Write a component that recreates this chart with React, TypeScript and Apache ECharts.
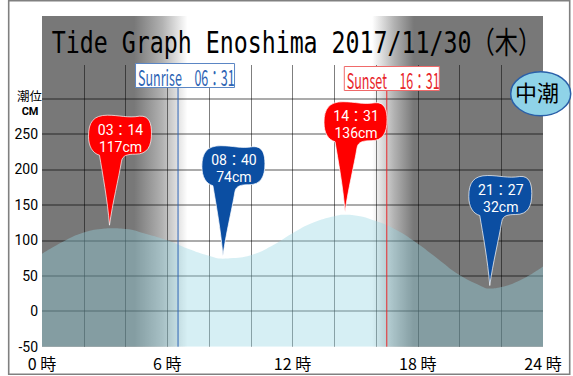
import React, { useEffect, useRef } from 'react';
import * as echarts from 'echarts';

// ---- data ----
const titleText = 'Tide Graph Enoshima 2017/11/30（木）';
const tideHours = [0, 1, 2, 3, 3.23, 4, 5, 6, 7, 8, 8.67, 9, 10, 11, 12, 13, 14, 14.52, 15, 16, 17, 18, 19, 20, 21, 21.45, 22, 23, 24];
const tideCm = [81, 98, 111, 116.5, 117, 116, 109, 100, 88, 78, 74, 74.5, 79, 92, 110, 125, 134, 136, 135, 127, 114, 95, 73, 51, 36, 32, 34, 45, 63];

const eventHours = [3 + 14 / 60, 8 + 40 / 60, 14 + 31 / 60, 21 + 27 / 60];
const eventCm = [117, 74, 136, 32];
const eventTimes = ['03：14', '08：40', '14：31', '21：27'];
const eventKinds = ['high', 'low', 'high', 'low'];

const sunNames = ['Sunrise', 'Sunset'];
const sunTimes = ['06：31', '16：31'];
const sunHours = [6 + 31 / 60, 16 + 31 / 60];

const yTicks = { min: -50, max: 300, step: 50 };
const xTicks = { min: 0, max: 24, step: 2, labelStep: 6 };
const tideName = '中潮';

// ---- layout / style ----
const W = 573;
const H = 376;
const GRID = { left: 42, right: 30, top: 65, bottom: 29.3 };
const Y_TOP_VALUE = 347; // value at the top edge of the grid (grid lines stop at 300)
const GRAY = '#787878';
const RED = '#ff0000';
const BLUE = '#0b4ea2';
const JP = '"Noto Sans CJK JP", "Noto Sans", sans-serif';
const LATIN = 'Roboto, "Noto Sans CJK JP", sans-serif';
const SUN_STYLE = [
  { color: '#2d64b4', border: '#5b86c4', top: 63, w: 99 },
  { color: '#e8262a', border: '#f06a6a', top: 66, w: 95 },
];
const PIN_PATH =
  'M 0 0 C -2 -25 -7 -52 -10 -70 C -17 -72 -21 -79 -21 -89 C -21 -103 -16 -110 -2 -110 ' +
  'C 10 -110 18 -107 30 -109 C 40 -110 42 -101 42 -92 C 42 -79 38 -71 26 -71 ' +
  'C 18 -71 13 -70 12 -64 C 9 -46 3 -22 0 0 Z';

export default function App() {
  const ref = useRef<HTMLDivElement>(null);

  useEffect(() => {
    if (!ref.current) return;
    const chart = echarts.init(ref.current, null, { renderer: 'svg' });

    const plotW = W - GRID.left - GRID.right;
    const rise = sunHours[0];
    const set = sunHours[1];
    const f = (h: number) => Math.max(0, Math.min(1, h / xTicks.max));
    const bg = new echarts.graphic.LinearGradient(0, 0, 1, 0, [
      { offset: 0, color: GRAY },
      { offset: f(rise - 2.1), color: GRAY },
      { offset: f(rise - 0.75), color: '#b2b2b2' },
      { offset: f(rise + 0.45), color: '#ffffff' },
      { offset: f(set - 0.7), color: '#ffffff' },
      { offset: f(set + 0.35), color: '#b2b2b2' },
      { offset: f(set + 1.3), color: GRAY },
      { offset: 1, color: GRAY },
    ]);

    const option: any = {
      animation: false,
      grid: { left: GRID.left, right: GRID.right, top: GRID.top, bottom: GRID.bottom, containLabel: false },
      xAxis: {
        type: 'value',
        min: xTicks.min,
        max: xTicks.max,
        interval: xTicks.step,
        z: 1,
        axisLine: { show: false },
        axisTick: { show: false },
        axisLabel: {
          color: '#000',
          fontSize: 16,
          lineHeight: 16,
          fontFamily: JP,
          margin: 8,
          formatter: (v: number) => (v % xTicks.labelStep === 0 ? `${v} 時` : ''),
        },
        splitLine: {
          show: true,
          showMinLine: false,
          showMaxLine: false,
          lineStyle: { color: 'rgba(0,0,0,0.5)', width: 1 },
        },
      },
      yAxis: {
        type: 'value',
        min: yTicks.min,
        max: Y_TOP_VALUE,
        interval: yTicks.step,
        z: 1,
        axisLine: { show: false },
        axisTick: { show: false },
        axisLabel: {
          color: '#000',
          fontSize: 14,
          lineHeight: 13,
          fontFamily: LATIN,
          margin: 4,
          showMaxLabel: false,
          formatter: (v: number) => (v >= yTicks.max ? '' : String(v)),
        },
        splitLine: {
          show: true,
          showMinLine: false,
          showMaxLine: false,
          lineStyle: { color: 'rgba(0,0,0,0.33)', width: 2 },
        },
      },
      graphic: [
        {
          type: 'rect',
          z: -1,
          silent: true,
          shape: { x: GRID.left, y: 16, width: plotW, height: H - GRID.bottom - 16 },
          style: { fill: bg },
        },
        {
          type: 'rect',
          z: 10,
          silent: true,
          shape: { x: 8.7, y: 0.7, width: 561, height: 373.6 },
          style: { fill: 'none', stroke: '#808080', lineWidth: 1.6 },
        },
        {
          type: 'text',
          z: 10,
          x: 296.5,
          y: 42,
          scaleX: 0.775,
          style: {
            text: titleText,
            font: '30px "DejaVu Sans Mono", "Noto Sans CJK JP", monospace',
            fill: '#000',
            align: 'center',
            verticalAlign: 'middle',
            textAlign: 'center',
            textVerticalAlign: 'middle',
          },
        },
        {
          type: 'text',
          z: 10,
          x: 42,
          y: 95,
          style: {
            text: '潮位',
            font: '12.5px ' + JP,
            fill: '#000',
            align: 'right',
            verticalAlign: 'middle',
            textAlign: 'right',
            textVerticalAlign: 'middle',
          },
        },
        {
          type: 'text',
          z: 10,
          x: 38.5,
          y: 111.5,
          style: {
            text: 'CM',
            font: 'bold 11px ' + LATIN,
            fill: '#000',
            align: 'right',
            verticalAlign: 'middle',
            textAlign: 'right',
            textVerticalAlign: 'middle',
          },
        },
        {
          type: 'ellipse',
          z: 11,
          shape: { cx: 540.7, cy: 93.7, rx: 30, ry: 22 },
          style: { fill: '#8fd3e8', stroke: '#2a5fa8', lineWidth: 1.5 },
        },
        {
          type: 'text',
          z: 12,
          x: 537,
          y: 91,
          style: {
            text: tideName,
            font: '22px ' + JP,
            fill: '#000',
            align: 'center',
            verticalAlign: 'middle',
            textAlign: 'center',
            textVerticalAlign: 'middle',
          },
        },
      ],
      series: [
        {
          type: 'line',
          z: 2,
          data: tideHours.map((h, i) => [h, tideCm[i]]),
          smooth: 0.5,
          symbol: 'none',
          showSymbol: false,
          lineStyle: { width: 0 },
          areaStyle: { color: 'rgba(150,214,228,0.56)', origin: 'start' },
          silent: true,
        },
        {
          type: 'custom',
          z: 3,
          silent: true,
          data: sunHours.map((h) => [h, yTicks.min]),
          encode: { x: 0, y: 1 },
          renderItem: (params: any, api: any) => {
            const i = params.dataIndex;
            const p = api.coord([api.value(0), api.value(1)]);
            const s = SUN_STYLE[i];
            const left = p[0] - 43;
            return {
              type: 'group',
              children: [
                {
                  type: 'line',
                  shape: { x1: p[0], y1: p[1], x2: p[0], y2: s.top + 24 },
                  style: { stroke: s.color, lineWidth: 1 },
                },
                {
                  type: 'rect',
                  shape: { x: left + 0.5, y: s.top + 0.5, width: s.w, height: 24 },
                  style: { fill: '#fff', stroke: s.border, lineWidth: 1 },
                },
                {
                  type: 'text',
                  x: left + 3,
                  y: s.top + 13,
                  scaleX: 0.57,
                  style: {
                    text: `${sunNames[i]}　${sunTimes[i]}`,
                    font: '22px ' + JP,
                    fill: s.color,
                    align: 'left',
                    verticalAlign: 'middle',
                    textAlign: 'left',
                    textVerticalAlign: 'middle',
                  },
                },
              ],
            };
          },
        },
        {
          type: 'custom',
          z: 4,
          silent: true,
          data: eventHours.map((h, i) => [h, eventCm[i]]),
          encode: { x: 0, y: 1 },
          renderItem: (params: any, api: any) => {
            const i = params.dataIndex;
            const p = api.coord([api.value(0), api.value(1)]);
            const color = eventKinds[i] === 'high' ? RED : BLUE;
            return {
              type: 'group',
              x: p[0],
              y: p[1] - 3,
              children: [
                {
                  type: 'path',
                  shape: { pathData: PIN_PATH },
                  style: { fill: color, stroke: 'rgba(255,255,255,0.7)', lineWidth: 1 },
                },
                {
                  type: 'text',
                  x: 11,
                  y: -87,
                  style: {
                    text: `${eventTimes[i]}\n${eventCm[i]}cm`,
                    font: '14px ' + LATIN,
                    lineHeight: 17,
                    fill: '#fff',
                    align: 'center',
                    verticalAlign: 'middle',
                    textAlign: 'center',
                    textVerticalAlign: 'middle',
                  },
                },
              ],
            };
          },
        },
      ],
    };

    chart.setOption(option);
    return () => chart.dispose();
  }, []);

  return (
    <div
      ref={ref}
      style={{ position: 'fixed', left: 0, top: 0, width: W, height: H, background: '#fff' }}
    />
  );
}
